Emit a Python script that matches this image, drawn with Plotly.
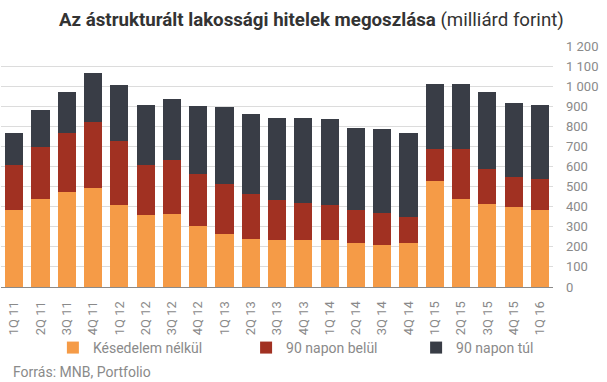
import plotly.graph_objects as go

categories = ["1Q 11", "2Q 11", "3Q 11", "4Q 11", "1Q 12", "2Q 12", "3Q 12", "4Q 12",
              "1Q 13", "2Q 13", "3Q 13", "4Q 13", "1Q 14", "2Q 14", "3Q 14", "4Q 14",
              "1Q 15", "2Q 15", "3Q 15", "4Q 15", "1Q 16"]

kesedelem_nelkul = [382, 437, 472, 492, 407, 357, 362, 302, 262, 237, 232, 232, 232, 217, 207, 217, 527, 437, 412, 397, 382]
napon_belul = [225, 260, 295, 330, 320, 250, 270, 260, 250, 225, 200, 185, 175, 165, 160, 130, 160, 250, 175, 150, 155]
napon_tul = [160, 185, 205, 245, 280, 300, 305, 340, 385, 400, 410, 425, 430, 410, 420, 420, 325, 325, 385, 370, 370]

tick_vals = [0, 100, 200, 300, 400, 500, 600, 700, 800, 900, 1000, 1100, 1200]
tick_text = ["0", "100", "200", "300", "400", "500", "600", "700", "800", "900", "1 000", "1 100", "1 200"]

series_names = ["Késedelem nélkül", "90 napon belül", "90 napon túl"]
colors = ["#F59B47", "#A13122", "#393D46"]

FONT = "Roboto"
GREY = "#8a8a8a"

fig = go.Figure()
legends = ["legend", "legend2", "legend3"]
for name, vals, col, lg in zip(series_names, [kesedelem_nelkul, napon_belul, napon_tul], colors, legends):
    fig.add_trace(go.Bar(x=categories, y=vals, name=name, marker=dict(color=col, line=dict(width=0)),
                         legend=lg, showlegend=True))

legend_common = dict(orientation="h", yanchor="middle", y=-0.253, xanchor="left",
                     font=dict(family=FONT, size=14, color=GREY), bgcolor="rgba(0,0,0,0)",
                     borderwidth=0, itemclick=False)

fig.update_layout(
    width=607, height=382,
    showlegend=True,
    barmode="stack", bargap=0.31,
    margin=dict(l=1, r=54, t=46, b=95),
    paper_bgcolor="white", plot_bgcolor="white",
    font=dict(family=FONT, color=GREY),
    title=dict(
        text="<b>Az ástrukturált lakossági hitelek megoszlása</b> (milliárd forint)",
        x=0.513, xanchor="center", y=0.948, yanchor="middle",
        font=dict(family=FONT, size=18.7, color="#333333"),
    ),
    xaxis=dict(tickangle=-90, tickfont=dict(family=FONT, size=13, color=GREY),
               showline=True, linecolor="#8a8a8a", linewidth=1, ticks="", showgrid=False,
               ticklabelstandoff=8),
    yaxis=dict(side="right", range=[0, 1200], tickvals=tick_vals, ticktext=tick_text,
               tickfont=dict(family=FONT, size=13, color=GREY), showgrid=True,
               gridcolor="#dcdcdc", gridwidth=1, zeroline=False, showline=False,
               ticks="", ticklabelstandoff=12),
    legend=dict(x=0.094, **legend_common),
    legend2=dict(x=0.444, **legend_common),
    legend3=dict(x=0.752, **legend_common),
    annotations=[dict(text="Forrás: MNB, Portfolio", xref="paper", yref="paper",
                      x=-0.0, y=(287 - 372) / 241, xanchor="left", yanchor="middle",
                      xshift=10, showarrow=False,
                      font=dict(family=FONT, size=14, color=GREY))],
)

fig.write_html("out.html", post_script="document.body.style.margin='0';",
               config={"displayModeBar": False})
